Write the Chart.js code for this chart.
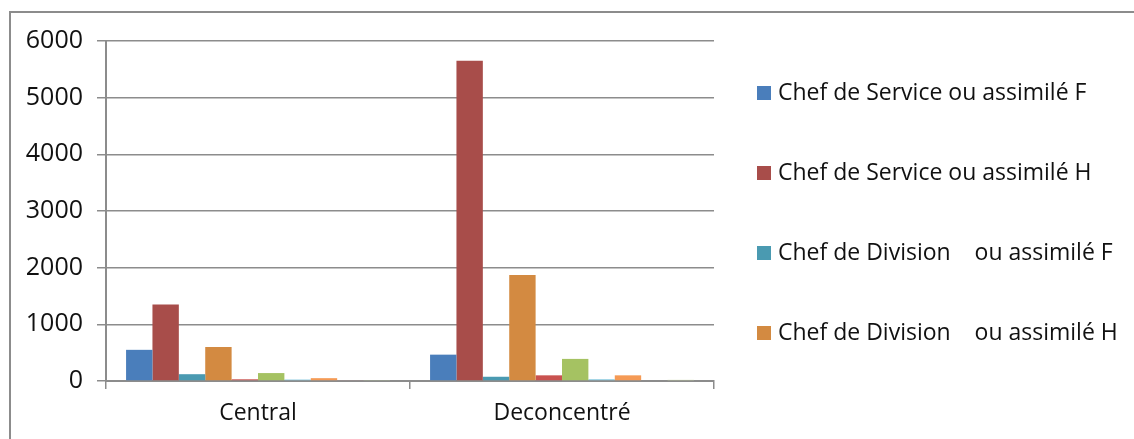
<!DOCTYPE html>
<html>
<head>
<meta charset="utf-8">
<script src="https://cdn.jsdelivr.net/npm/chart.js@4.4.1/dist/chart.umd.min.js"></script>
<style>
  html, body { margin: 0; padding: 0; background: #fff; overflow: hidden; }
  #wrap { position: relative; width: 1134px; height: 439px; }
</style>
</head>
<body>
<div id="wrap"><canvas id="c" width="1134" height="439"></canvas></div>
<script>
// Effectifs par catégorie de poste, administration centrale vs services déconcentrés
const categories = ['Central', 'Deconcentré'];

const seriesLabels = [
  'Chef de Service ou assimilé F',
  'Chef de Service ou assimilé H',
  'Chef de Division    ou assimilé F',
  'Chef de Division    ou assimilé H',
  'Chef de Bureau ou assimilé H',
  'Chef de Bureau ou assimilé F',
  'Chef de Section ou assimilé F',
  'Chef de Section ou assimilé H',
  'Autres postes F',
  'Autres postes H'
];

const chefServiceF  = [550, 465];
const chefServiceH  = [1350, 5650];
const chefDivisionF = [120, 75];
const chefDivisionH = [600, 1870];
const chefBureauH   = [30, 100];
const chefBureauF   = [140, 390];
const chefSectionF  = [25, 30];
const chefSectionH  = [50, 100];
const autresF       = [15, 0];
const autresH       = [10, 20];

const seriesValues = [
  chefServiceF, chefServiceH, chefDivisionF, chefDivisionH, chefBureauH,
  chefBureauF, chefSectionF, chefSectionH, autresF, autresH
];

const seriesColors = [
  '#4A7EBB', '#A84D4A', '#4A9AB1', '#D38A41', '#C9524F',
  '#A5C262', '#7EC4DC', '#F59A55', '#E6A7A6', '#C8DAA3'
];

const yMax = 6000;
const yStep = 1000;

const GRID = '#8c8c8c';
const TEXT = '#111111';
const FONT = "'Open Sans', 'Noto Sans', sans-serif";

const datasets = seriesLabels.map((label, i) => ({
  label,
  data: seriesValues[i],
  backgroundColor: seriesColors[i],
  borderWidth: 0,
  barPercentage: 1,
  categoryPercentage: 0.868
}));

// outer frame around the whole chart
const framePlugin = {
  id: 'frame',
  beforeDraw(chart) {
    const c = chart.ctx;
    c.save();
    c.strokeStyle = GRID;
    c.lineWidth = 2;
    c.strokeRect(10, 12, 1200, 500);
    c.restore();
  }
};

// legend on the right: only the first four entries fit in the frame
const sideLegend = {
  id: 'sideLegend',
  afterDraw(chart) {
    const c = chart.ctx;
    const rows = [93, 173, 253, 333];
    c.save();
    c.font = `23px ${FONT}`;
    c.textBaseline = 'middle';
    c.textAlign = 'left';
    rows.forEach((y, i) => {
      const ds = chart.data.datasets[i];
      c.fillStyle = ds.backgroundColor;
      c.fillRect(757, y - 7, 14, 14);
      c.fillStyle = TEXT;
      c.fillText(ds.label, 778, y);
    });
    c.restore();
  }
};

new Chart(document.getElementById('c'), {
  type: 'bar',
  data: { labels: categories, datasets },
  options: {
    responsive: false,
    animation: false,
    devicePixelRatio: 1,
    layout: { padding: { top: 41, right: 420, bottom: 0, left: 0 } },
    plugins: {
      legend: { display: false },
      tooltip: { enabled: false }
    },
    scales: {
      x: {
        grid: {
          offset: true,
          drawOnChartArea: false,
          drawTicks: true,
          tickLength: 8,
          color: GRID,
          lineWidth: 1.5
        },
        border: { color: GRID, width: 2 },
        ticks: { font: { family: FONT, size: 23 }, color: TEXT, padding: 11 },
        afterFit(s) { s.height = 58; }
      },
      y: {
        min: 0,
        max: yMax,
        grid: { color: GRID, lineWidth: 1.5, tickLength: 9 },
        border: { color: GRID, width: 2 },
        ticks: {
          stepSize: yStep,
          font: { family: FONT, size: 25 },
          color: TEXT,
          padding: 14,
          callback: v => String(v)
        },
        afterFit(s) { s.width = 106; }
      }
    }
  },
  plugins: [framePlugin, sideLegend]
});
</script>
</body>
</html>
